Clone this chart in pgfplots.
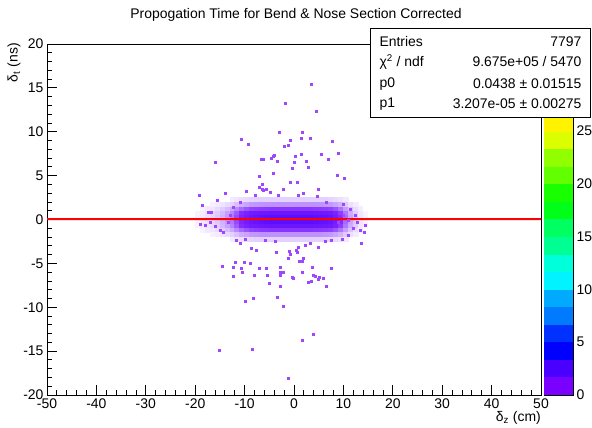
\documentclass[border=0pt]{standalone}
\usepackage{pgfplots}
\pgfplotsset{compat=1.18}
\usepackage{fontspec}
\setmainfont{Liberation Sans}
\definecolor{c0}{RGB}{122,0,255}
\definecolor{c1}{RGB}{73,0,255}
\definecolor{c2}{RGB}{0,0,255}
\definecolor{c3}{RGB}{0,49,255}
\definecolor{c4}{RGB}{0,122,255}
\definecolor{c5}{RGB}{0,170,255}
\definecolor{c6}{RGB}{0,243,255}
\definecolor{c7}{RGB}{0,255,219}
\definecolor{c8}{RGB}{0,255,146}
\definecolor{c9}{RGB}{0,255,97}
\definecolor{c10}{RGB}{0,255,24}
\definecolor{c11}{RGB}{24,255,0}
\definecolor{c12}{RGB}{97,255,0}
\definecolor{c13}{RGB}{146,255,0}
\definecolor{c14}{RGB}{219,255,0}
\definecolor{c15}{RGB}{255,243,0}
\definecolor{c16}{RGB}{255,170,0}
\definecolor{c17}{RGB}{255,122,0}
\definecolor{c18}{RGB}{255,49,0}
\definecolor{c19}{RGB}{255,0,0}
\newcommand{\fs}{\fontsize{14}{16}\selectfont}
\begin{document}
\begin{tikzpicture}
\path[use as bounding box] (0,0) rectangle (592bp,428bp);
% ---- dense core (2D histogram, coarse cells) ----
\begin{axis}[at={(47bp,33bp)}, anchor=south west, scale only axis,
  width=494bp, height=351bp, xmin=-50, xmax=50, ymin=-20, ymax=20, hide axis,
  colormap={core}{rgb255(0cm)=(255,255,255); rgb255(1.5cm)=(235,222,255); rgb255(5cm)=(182,132,255); rgb255(8.5cm)=(130,40,255); rgb255(11cm)=(108,22,255); rgb255(12cm)=(92,12,255)},
  point meta min=0, point meta max=1.2]
\addplot[scatter, only marks, mark=square*, mark size=2.75bp, point meta=explicit,
  scatter/use mapped color={draw opacity=0, fill=mapped color},
  mark options={yscale=0.86}] coordinates {
(-19.5,0.25)[0.06] (-18.5,0.25)[0.1] (-17.5,0.25)[0.14] (-16.5,0.25)[0.18] (-15.5,0.25)[0.24] (-14.5,0.25)[0.32] (-13.5,0.25)[0.42] (-12.5,0.25)[0.54] (-11.5,0.25)[0.72] (-10.5,0.25)[0.9] (-9.5,0.25)[1.02] (-8.5,0.25)[1.1] (-7.5,0.25)[1.13] (-6.5,0.25)[1.16] (-5.5,0.25)[1.18] (-4.5,0.25)[1.2] (-3.5,0.25)[1.2] (-2.5,0.25)[1.2] (-1.5,0.25)[1.2] (-0.5,0.25)[1.2] (0.5,0.25)[1.2] (1.5,0.25)[1.2] (2.5,0.25)[1.2] (3.5,0.25)[1.2] (4.5,0.25)[1.18] (5.5,0.25)[1.16] (6.5,0.25)[1.15] (7.5,0.25)[1.12] (8.5,0.25)[1.02] (9.5,0.25)[0.84] (10.5,0.25)[0.6] (11.5,0.25)[0.38] (12.5,0.25)[0.24] (13.5,0.25)[0.12] (14.5,0.25)[0.06]
(-19.5,-0.25)[0.06] (-18.5,-0.25)[0.1] (-17.5,-0.25)[0.14] (-16.5,-0.25)[0.18] (-15.5,-0.25)[0.24] (-14.5,-0.25)[0.32] (-13.5,-0.25)[0.42] (-12.5,-0.25)[0.54] (-11.5,-0.25)[0.72] (-10.5,-0.25)[0.9] (-9.5,-0.25)[1.02] (-8.5,-0.25)[1.1] (-7.5,-0.25)[1.13] (-6.5,-0.25)[1.16] (-5.5,-0.25)[1.18] (-4.5,-0.25)[1.2] (-3.5,-0.25)[1.2] (-2.5,-0.25)[1.2] (-1.5,-0.25)[1.2] (-0.5,-0.25)[1.2] (0.5,-0.25)[1.2] (1.5,-0.25)[1.2] (2.5,-0.25)[1.2] (3.5,-0.25)[1.2] (4.5,-0.25)[1.18] (5.5,-0.25)[1.16] (6.5,-0.25)[1.15] (7.5,-0.25)[1.12] (8.5,-0.25)[1.02] (9.5,-0.25)[0.84] (10.5,-0.25)[0.6] (11.5,-0.25)[0.38] (12.5,-0.25)[0.24] (13.5,-0.25)[0.12] (14.5,-0.25)[0.06]
(-19.5,0.75)[0.05] (-18.5,0.75)[0.09] (-17.5,0.75)[0.13] (-16.5,0.75)[0.17] (-15.5,0.75)[0.22] (-14.5,0.75)[0.3] (-13.5,0.75)[0.39] (-12.5,0.75)[0.5] (-11.5,0.75)[0.66] (-10.5,0.75)[0.83] (-9.5,0.75)[0.94] (-8.5,0.75)[1.02] (-7.5,0.75)[1.05] (-6.5,0.75)[1.07] (-5.5,0.75)[1.08] (-4.5,0.75)[1.1] (-3.5,0.75)[1.1] (-2.5,0.75)[1.1] (-1.5,0.75)[1.1] (-0.5,0.75)[1.1] (0.5,0.75)[1.1] (1.5,0.75)[1.1] (2.5,0.75)[1.1] (3.5,0.75)[1.1] (4.5,0.75)[1.08] (5.5,0.75)[1.07] (6.5,0.75)[1.06] (7.5,0.75)[1.03] (8.5,0.75)[0.94] (9.5,0.75)[0.77] (10.5,0.75)[0.55] (11.5,0.75)[0.35] (12.5,0.75)[0.22] (13.5,0.75)[0.11] (14.5,0.75)[0.05]
(-19.5,-0.75)[0.05] (-18.5,-0.75)[0.09] (-17.5,-0.75)[0.13] (-16.5,-0.75)[0.17] (-15.5,-0.75)[0.22] (-14.5,-0.75)[0.3] (-13.5,-0.75)[0.39] (-12.5,-0.75)[0.5] (-11.5,-0.75)[0.66] (-10.5,-0.75)[0.83] (-9.5,-0.75)[0.94] (-8.5,-0.75)[1.02] (-7.5,-0.75)[1.05] (-6.5,-0.75)[1.07] (-5.5,-0.75)[1.08] (-4.5,-0.75)[1.1] (-3.5,-0.75)[1.1] (-2.5,-0.75)[1.1] (-1.5,-0.75)[1.1] (-0.5,-0.75)[1.1] (0.5,-0.75)[1.1] (1.5,-0.75)[1.1] (2.5,-0.75)[1.1] (3.5,-0.75)[1.1] (4.5,-0.75)[1.08] (5.5,-0.75)[1.07] (6.5,-0.75)[1.06] (7.5,-0.75)[1.03] (8.5,-0.75)[0.94] (9.5,-0.75)[0.77] (10.5,-0.75)[0.55] (11.5,-0.75)[0.35] (12.5,-0.75)[0.22] (13.5,-0.75)[0.11] (14.5,-0.75)[0.05]
(-18.5,1.25)[0.06] (-17.5,1.25)[0.1] (-16.5,1.25)[0.12] (-15.5,1.25)[0.16] (-14.5,1.25)[0.22] (-13.5,1.25)[0.28] (-12.5,1.25)[0.36] (-11.5,1.25)[0.48] (-10.5,1.25)[0.6] (-9.5,1.25)[0.68] (-8.5,1.25)[0.74] (-7.5,1.25)[0.76] (-6.5,1.25)[0.78] (-5.5,1.25)[0.79] (-4.5,1.25)[0.8] (-3.5,1.25)[0.8] (-2.5,1.25)[0.8] (-1.5,1.25)[0.8] (-0.5,1.25)[0.8] (0.5,1.25)[0.8] (1.5,1.25)[0.8] (2.5,1.25)[0.8] (3.5,1.25)[0.8] (4.5,1.25)[0.79] (5.5,1.25)[0.78] (6.5,1.25)[0.77] (7.5,1.25)[0.75] (8.5,1.25)[0.68] (9.5,1.25)[0.56] (10.5,1.25)[0.4] (11.5,1.25)[0.26] (12.5,1.25)[0.16] (13.5,1.25)[0.08]
(-18.5,-1.25)[0.06] (-17.5,-1.25)[0.1] (-16.5,-1.25)[0.12] (-15.5,-1.25)[0.16] (-14.5,-1.25)[0.22] (-13.5,-1.25)[0.28] (-12.5,-1.25)[0.36] (-11.5,-1.25)[0.48] (-10.5,-1.25)[0.6] (-9.5,-1.25)[0.68] (-8.5,-1.25)[0.74] (-7.5,-1.25)[0.76] (-6.5,-1.25)[0.78] (-5.5,-1.25)[0.79] (-4.5,-1.25)[0.8] (-3.5,-1.25)[0.8] (-2.5,-1.25)[0.8] (-1.5,-1.25)[0.8] (-0.5,-1.25)[0.8] (0.5,-1.25)[0.8] (1.5,-1.25)[0.8] (2.5,-1.25)[0.8] (3.5,-1.25)[0.8] (4.5,-1.25)[0.79] (5.5,-1.25)[0.78] (6.5,-1.25)[0.77] (7.5,-1.25)[0.75] (8.5,-1.25)[0.68] (9.5,-1.25)[0.56] (10.5,-1.25)[0.4] (11.5,-1.25)[0.26] (12.5,-1.25)[0.16] (13.5,-1.25)[0.08]
(-16.5,1.75)[0.07] (-15.5,1.75)[0.09] (-14.5,1.75)[0.12] (-13.5,1.75)[0.16] (-12.5,1.75)[0.2] (-11.5,1.75)[0.27] (-10.5,1.75)[0.34] (-9.5,1.75)[0.38] (-8.5,1.75)[0.42] (-7.5,1.75)[0.43] (-6.5,1.75)[0.44] (-5.5,1.75)[0.45] (-4.5,1.75)[0.45] (-3.5,1.75)[0.45] (-2.5,1.75)[0.45] (-1.5,1.75)[0.45] (-0.5,1.75)[0.45] (0.5,1.75)[0.45] (1.5,1.75)[0.45] (2.5,1.75)[0.45] (3.5,1.75)[0.45] (4.5,1.75)[0.45] (5.5,1.75)[0.44] (6.5,1.75)[0.43] (7.5,1.75)[0.42] (8.5,1.75)[0.38] (9.5,1.75)[0.32] (10.5,1.75)[0.23] (11.5,1.75)[0.14] (12.5,1.75)[0.09]
(-16.5,-1.75)[0.07] (-15.5,-1.75)[0.09] (-14.5,-1.75)[0.12] (-13.5,-1.75)[0.16] (-12.5,-1.75)[0.2] (-11.5,-1.75)[0.27] (-10.5,-1.75)[0.34] (-9.5,-1.75)[0.38] (-8.5,-1.75)[0.42] (-7.5,-1.75)[0.43] (-6.5,-1.75)[0.44] (-5.5,-1.75)[0.45] (-4.5,-1.75)[0.45] (-3.5,-1.75)[0.45] (-2.5,-1.75)[0.45] (-1.5,-1.75)[0.45] (-0.5,-1.75)[0.45] (0.5,-1.75)[0.45] (1.5,-1.75)[0.45] (2.5,-1.75)[0.45] (3.5,-1.75)[0.45] (4.5,-1.75)[0.45] (5.5,-1.75)[0.44] (6.5,-1.75)[0.43] (7.5,-1.75)[0.42] (8.5,-1.75)[0.38] (9.5,-1.75)[0.32] (10.5,-1.75)[0.23] (11.5,-1.75)[0.14] (12.5,-1.75)[0.09]
(-12.5,2.25)[0.09] (-11.5,2.25)[0.12] (-10.5,2.25)[0.15] (-9.5,2.25)[0.17] (-8.5,2.25)[0.19] (-7.5,2.25)[0.2] (-6.5,2.25)[0.2] (-5.5,2.25)[0.2] (-4.5,2.25)[0.2] (-3.5,2.25)[0.2] (-2.5,2.25)[0.2] (-1.5,2.25)[0.2] (-0.5,2.25)[0.2] (0.5,2.25)[0.2] (1.5,2.25)[0.2] (2.5,2.25)[0.2] (3.5,2.25)[0.2] (4.5,2.25)[0.2] (5.5,2.25)[0.2] (6.5,2.25)[0.2] (7.5,2.25)[0.19] (8.5,2.25)[0.17] (9.5,2.25)[0.14] (10.5,2.25)[0.1]
(-12.5,-2.25)[0.09] (-11.5,-2.25)[0.12] (-10.5,-2.25)[0.15] (-9.5,-2.25)[0.17] (-8.5,-2.25)[0.19] (-7.5,-2.25)[0.2] (-6.5,-2.25)[0.2] (-5.5,-2.25)[0.2] (-4.5,-2.25)[0.2] (-3.5,-2.25)[0.2] (-2.5,-2.25)[0.2] (-1.5,-2.25)[0.2] (-0.5,-2.25)[0.2] (0.5,-2.25)[0.2] (1.5,-2.25)[0.2] (2.5,-2.25)[0.2] (3.5,-2.25)[0.2] (4.5,-2.25)[0.2] (5.5,-2.25)[0.2] (6.5,-2.25)[0.2] (7.5,-2.25)[0.19] (8.5,-2.25)[0.17] (9.5,-2.25)[0.14] (10.5,-2.25)[0.1]
};
\end{axis}
% ---- main frame ----
\begin{axis}[at={(47bp,33bp)}, anchor=south west, scale only axis,
  width=494bp, height=351bp, xmin=-50, xmax=50, ymin=-20, ymax=20,
  xtick={-50,-40,-30,-20,-10,0,10,20,30,40,50},
  xticklabels={-50,-40,-30,-20,-10,0,10,20,30,40,50},
  ytick={-20,-15,-10,-5,0,5,10,15,20},
  yticklabels={-20,-15,-10,-5,0,5,10,15,20},
  minor x tick num=4, minor y tick num=4,
  tick pos=left, tick align=inside,
  major tick length=10bp, minor tick length=5bp,
  tick style={black, line width=0.8bp},
  axis line style={line width=0.8bp},
  ticklabel style={font=\fs}]
\addplot[only marks, mark=square*, mark size=1bp, color=c0!72!white] coordinates {
(3.4,15.4) (-1.7,13.3) (4.5,12.3) (-3.0,9.9) (1.6,9.9) (-10.6,9.2) (-9.3,8.6) (-0.7,9.0) (1.4,9.3) (3.2,9.3) (7.7,8.9) (-1.2,8.5) (-1.9,8.3) (9.0,7.6) (5.5,7.4) (1.4,7.4) (-4.0,7.3) (-4.3,7.2) (0.3,7.2) (-4.7,7.0) (-6.7,6.9) (-6.3,6.9) (-15.9,6.5) (-3.5,6.6) (0.1,6.5) (2.4,6.6) (6.9,6.9) (-0.4,5.9) (2.9,6.0) (-4.3,5.3) (-7.0,4.9) (8.7,5.0) (10.1,4.7) (-0.7,4.3) (0.6,4.3) (-6.5,4.0) (-7.0,3.7) (-6.5,3.5) (-5.7,3.5) (-2.2,3.4) (4.9,3.5)
(-3.7,-3.7) (-0.9,-3.6) (0.6,-3.7) (-1.2,-4.4) (1.9,-4.4) (1.1,-4.7) (1.6,-4.7) (-14.6,-5.3) (-11.9,-4.9) (-10.1,-4.9) (-8.8,-5.0) (-12.3,-5.4) (-10.6,-5.6) (-7.1,-5.6) (-5.7,-5.6) (-2.7,-5.4) (3.6,-5.4) (7.5,-5.6) (-10.4,-6.0) (-2.8,-6.0) (-2.2,-6.0) (1.6,-6.0) (-12.3,-6.5) (-8.0,-6.3) (-5.5,-6.3) (-2.7,-6.3) (3.9,-6.3) (4.2,-6.5) (-0.4,-6.6) (-0.2,-6.7) (5.2,-6.6) (4.9,-6.8) (5.9,-6.7) (3.4,-7.0) (2.9,-7.2) (-5.0,-7.3) (-2.7,-7.6) (6.5,-7.6) (-3.5,-8.9) (-8.3,-9.0) (-9.8,-9.3) (-2.2,-9.9) (3.9,-13.1) (1.6,-13.7) (-15.2,-14.9) (-8.5,-14.8) (-1.2,-18.1)
(-19.2,2.8) (-18.6,1.6) (-17.3,0.8) (-16.7,0.8) (-19.0,-0.5) (-18.0,-0.6) (-17.0,-0.3) (-15.6,2.2) (-14.0,3.0) (-16.0,-0.8) (-15.0,-1.2) (-14.3,-1.4) (-13.3,-0.3) (-13.0,0.5) (-11.6,-2.4) (-10.9,-2.7) (-9.9,-2.2) (-8.6,-3.3) (-7.6,-3.5) (-5.9,-2.4) (-3.8,-2.5) (-9.6,3.2) (-7.9,2.8) (-6.2,3.3) (-4.9,3.1) (-3.2,2.8) (-10.9,2.0) (-12.3,1.4)
(0.9,2.8) (1.9,3.0) (4.6,2.7) (6.6,2.0) (10.0,1.7) (11.3,1.2) (12.3,0.5) (12.7,-0.3) (14.4,-0.6) (14.2,-1.4) (13.4,-1.2) (12.0,-1.0) (11.0,-1.8) (9.7,-2.2) (13.7,-2.7) (7.6,-2.4) (6.3,-2.5) (4.9,-3.1) (3.2,-2.7) (2.2,-2.9) (0.9,-3.1) (-0.8,-3.9) (0.5,-3.5) (10.0,0.5) (11.0,-0.1) (9.0,-0.3)
};
\addplot[red, line width=2bp] coordinates {(-50,0.0422) (50,0.0454)};
\end{axis}
% ---- palette ----
\begin{axis}[at={(544bp,33bp)}, anchor=south west, scale only axis,
  width=29bp, height=351bp, xmin=0, xmax=1, ymin=0, ymax=33.2,
  xtick=\empty, ytick={0,5,10,15,20,25}, yticklabels={0,5,10,15,20,25},
  ytick pos=right, yticklabel pos=right, tick align=inside,
  major tick length=14bp, tick style={black, line width=0.8bp},
  axis line style={line width=0.8bp}, ticklabel style={font=\fs}]
\addplot[fill=c0, draw=none] coordinates {(0,0) (1,0) (1,1.66) (0,1.66)} -- cycle;
\addplot[fill=c1, draw=none] coordinates {(0,1.66) (1,1.66) (1,3.32) (0,3.32)} -- cycle;
\addplot[fill=c2, draw=none] coordinates {(0,3.32) (1,3.32) (1,4.98) (0,4.98)} -- cycle;
\addplot[fill=c3, draw=none] coordinates {(0,4.98) (1,4.98) (1,6.64) (0,6.64)} -- cycle;
\addplot[fill=c4, draw=none] coordinates {(0,6.64) (1,6.64) (1,8.30) (0,8.30)} -- cycle;
\addplot[fill=c5, draw=none] coordinates {(0,8.30) (1,8.30) (1,9.96) (0,9.96)} -- cycle;
\addplot[fill=c6, draw=none] coordinates {(0,9.96) (1,9.96) (1,11.62) (0,11.62)} -- cycle;
\addplot[fill=c7, draw=none] coordinates {(0,11.62) (1,11.62) (1,13.28) (0,13.28)} -- cycle;
\addplot[fill=c8, draw=none] coordinates {(0,13.28) (1,13.28) (1,14.94) (0,14.94)} -- cycle;
\addplot[fill=c9, draw=none] coordinates {(0,14.94) (1,14.94) (1,16.60) (0,16.60)} -- cycle;
\addplot[fill=c10, draw=none] coordinates {(0,16.60) (1,16.60) (1,18.26) (0,18.26)} -- cycle;
\addplot[fill=c11, draw=none] coordinates {(0,18.26) (1,18.26) (1,19.92) (0,19.92)} -- cycle;
\addplot[fill=c12, draw=none] coordinates {(0,19.92) (1,19.92) (1,21.58) (0,21.58)} -- cycle;
\addplot[fill=c13, draw=none] coordinates {(0,21.58) (1,21.58) (1,23.24) (0,23.24)} -- cycle;
\addplot[fill=c14, draw=none] coordinates {(0,23.24) (1,23.24) (1,24.90) (0,24.90)} -- cycle;
\addplot[fill=c15, draw=none] coordinates {(0,24.90) (1,24.90) (1,26.56) (0,26.56)} -- cycle;
\addplot[fill=c16, draw=none] coordinates {(0,26.56) (1,26.56) (1,28.22) (0,28.22)} -- cycle;
\addplot[fill=c17, draw=none] coordinates {(0,28.22) (1,28.22) (1,29.88) (0,29.88)} -- cycle;
\addplot[fill=c18, draw=none] coordinates {(0,29.88) (1,29.88) (1,31.54) (0,31.54)} -- cycle;
\addplot[fill=c19, draw=none] coordinates {(0,31.54) (1,31.54) (1,33.2) (0,33.2)} -- cycle;
\end{axis}
% ---- texts ----
\node[font=\fs] at (296bp,413bp) {Propogation Time for Bend \& Nose Section Corrected};
\node[font=\fs, rotate=90, anchor=east, inner sep=0pt] at (14bp,385bp) {δ\textsubscript{t} (ns)};
\node[font=\fs, anchor=east, inner sep=0pt] at (541bp,10bp) {δ\textsubscript{z} (cm)};
% ---- stats box ----
\filldraw[fill=white, draw=black, line width=0.8bp] (370bp,311bp) rectangle (590bp,400bp);
\node[font=\fs, anchor=west] at (376bp,386bp) {Entries};
\node[font=\fs, anchor=east] at (585bp,386bp) {7797};
\node[font=\fs, anchor=west] at (376bp,366bp) {χ\textsuperscript{2} / ndf};
\node[font=\fs, anchor=east] at (585bp,366bp) {9.675e+05 / 5470};
\node[font=\fs, anchor=west] at (376bp,344bp) {p0};
\node[font=\fs, anchor=east] at (585bp,344bp) {0.0438 ± 0.01515};
\node[font=\fs, anchor=west] at (376bp,324bp) {p1};
\node[font=\fs, anchor=east] at (585bp,324bp) {3.207e-05 ± 0.00275};
\end{tikzpicture}
\end{document}
